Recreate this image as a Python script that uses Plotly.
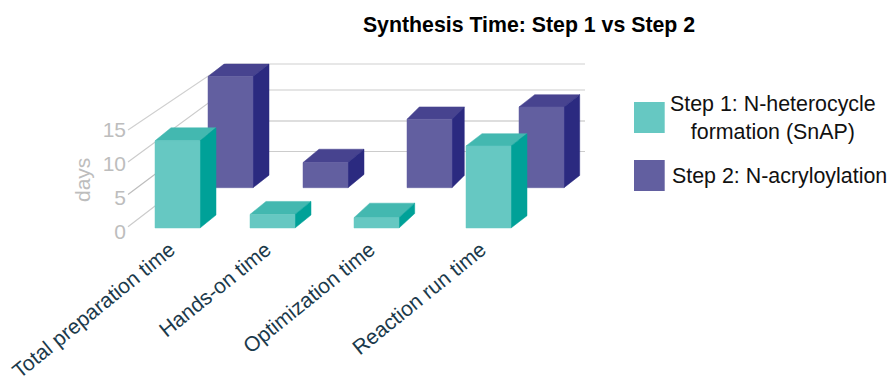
import plotly.graph_objects as go

categories = ["Total preparation time", "Hands-on time", "Optimization time", "Reaction run time"]
series_names = ["Step 1: N-heterocycle<br>formation (SnAP)", "Step 2: N-acryloylation"]
step1_days = [13.5, 2.1, 1.6, 12.7]
step2_days = [17.2, 3.9, 10.6, 12.5]
y_ticks = [0, 5, 10, 15]

W, H = 889, 376
FONT = "Liberation Sans, Arial, sans-serif"

# layout of the oblique view, in pixels
PX_PER_DAY = 6.46
FRONT_BASE = 228
BACK_BASE = 187.7
BAR_W = 45
PLOT_BOTTOM = 232.5
front_left = [155, 250, 354, 466]
back_left = [208, 303, 407, 519]
front_depth = [(16, 13), (16, 13), (15.7, 14.5), (16, 12.3)]
back_depth = [(16, 12.5), (16, 13.3), (12.3, 12.3), (15.7, 12.3)]
label_anchor = [170, 266, 370, 481]
wall_front = {0: 226.7, 5: 194.4, 10: 161.9, 15: 130}
wall_back = {0: 151.5, 5: 121, 10: 90, 15: 64}
wall_colors = {0: "#cccccc", 5: "#bdbdbd", 10: "#cccccc", 15: "#d0d0d0"}
WALL_X = (128, 226, 585)

GREEN = ("#66c8c2", "#43b8b0", "#00a198")
PURPLE = ("#625fa0", "#47438f", "#2b2a80")


def day_from_px(py):
    return (FRONT_BASE - py) / PX_PER_DAY


def add_poly(fig, xs, ys, color, name):
    fig.add_trace(go.Scatter(
        x=xs + xs[:1], y=ys + ys[:1], mode="lines", fill="toself", fillcolor=color,
        line=dict(color=color, width=0.5), name=name, hoverinfo="name", showlegend=False))


def add_bar(fig, left, base_px, depth, value, colors, name):
    dx, dy_px = depth
    dy = dy_px / PX_PER_DAY
    base = day_from_px(base_px)
    top = base + value
    right = left + BAR_W
    add_poly(fig, [left, right, right + dx, left + dx], [top, top, top + dy, top + dy], colors[1], name)
    add_poly(fig, [right, right + dx, right + dx, right], [base, base + dy, top + dy, top], colors[2], name)
    add_poly(fig, [left, right, right, left], [base, base, top, top], colors[0], name)


fig = go.Figure()

for t in y_ticks:
    fig.add_trace(go.Scatter(
        x=list(WALL_X),
        y=[day_from_px(wall_front[t]), day_from_px(wall_back[t]), day_from_px(wall_back[t])],
        mode="lines", line=dict(color=wall_colors[t], width=1.2), hoverinfo="skip", showlegend=False))

for i, v in enumerate(step2_days):
    add_bar(fig, back_left[i], BACK_BASE, back_depth[i], v, PURPLE, "Step 2: N-acryloylation")
for i, v in enumerate(step1_days):
    add_bar(fig, front_left[i], FRONT_BASE, front_depth[i], v, GREEN, "Step 1: N-heterocycle formation (SnAP)")

# carries the value axis labels, which sit slightly off the wall grid in the view
fig.add_trace(go.Scatter(x=[None], y=[None], yaxis="y2", showlegend=False, hoverinfo="skip"))

domain_low = 1 - PLOT_BOTTOM / H
LABEL_PX_PER_DAY = 6.85
LABEL_ZERO = 232

fig.update_layout(
    width=W, height=H, autosize=False,
    margin=dict(l=0, r=0, t=0, b=0),
    paper_bgcolor="white", plot_bgcolor="white",
    showlegend=False,
    title=dict(text="<b>Synthesis Time: Step 1 vs Step 2</b>", x=529 / W, y=1 - 25 / H,
               xanchor="center", yanchor="middle", automargin=False,
               font=dict(family=FONT, size=21.3, color="#000000")),
    xaxis=dict(range=[0, W], domain=[0, 1], showgrid=False, zeroline=False, showline=False, automargin=False,
               tickmode="array", tickvals=label_anchor, ticktext=categories, tickangle=-39,
               ticks="", ticklabeloverflow="allow",
               tickfont=dict(family=FONT, size=21, color="#1b3a4b")),
    yaxis=dict(range=[(FRONT_BASE - PLOT_BOTTOM) / PX_PER_DAY, FRONT_BASE / PX_PER_DAY],
               domain=[domain_low, 1], visible=False, automargin=False),
    yaxis2=dict(range=[(LABEL_ZERO - PLOT_BOTTOM) / LABEL_PX_PER_DAY, LABEL_ZERO / LABEL_PX_PER_DAY],
                overlaying="y", anchor="free", position=126 / W, side="left", automargin=False,
                tickmode="array", tickvals=y_ticks, showgrid=False, zeroline=False, showline=False,
                ticks="", tickfont=dict(family=FONT, size=21, color="#bdbdbd")),
    shapes=[
        dict(type="rect", xref="paper", yref="paper", x0=634 / W, x1=664.7 / W, y0=1 - 133 / H, y1=1 - 102 / H,
             fillcolor=GREEN[0], line=dict(width=0)),
        dict(type="rect", xref="paper", yref="paper", x0=634 / W, x1=664.7 / W, y0=1 - 191 / H, y1=1 - 160 / H,
             fillcolor=PURPLE[0], line=dict(width=0)),
    ],
    annotations=[
        dict(text=series_names[0], xref="paper", yref="paper", x=772.5 / W, y=1 - 118 / H, xanchor="center",
             yanchor="middle", align="center", showarrow=False, font=dict(family=FONT, size=21.4, color="#111111")),
        dict(text=series_names[1], xref="paper", yref="paper", x=779 / W, y=1 - 176 / H, xanchor="center",
             yanchor="middle", showarrow=False, font=dict(family=FONT, size=21.4, color="#111111")),
        dict(text="days", xref="paper", yref="paper", x=82 / W, y=1 - 180 / H, xanchor="center",
             yanchor="middle", textangle=-90, showarrow=False, font=dict(family=FONT, size=21, color="#bdbdbd")),
    ],
)

fig.write_html("out.html", config=dict(displayModeBar=False), post_script="document.body.style.margin='0';")
